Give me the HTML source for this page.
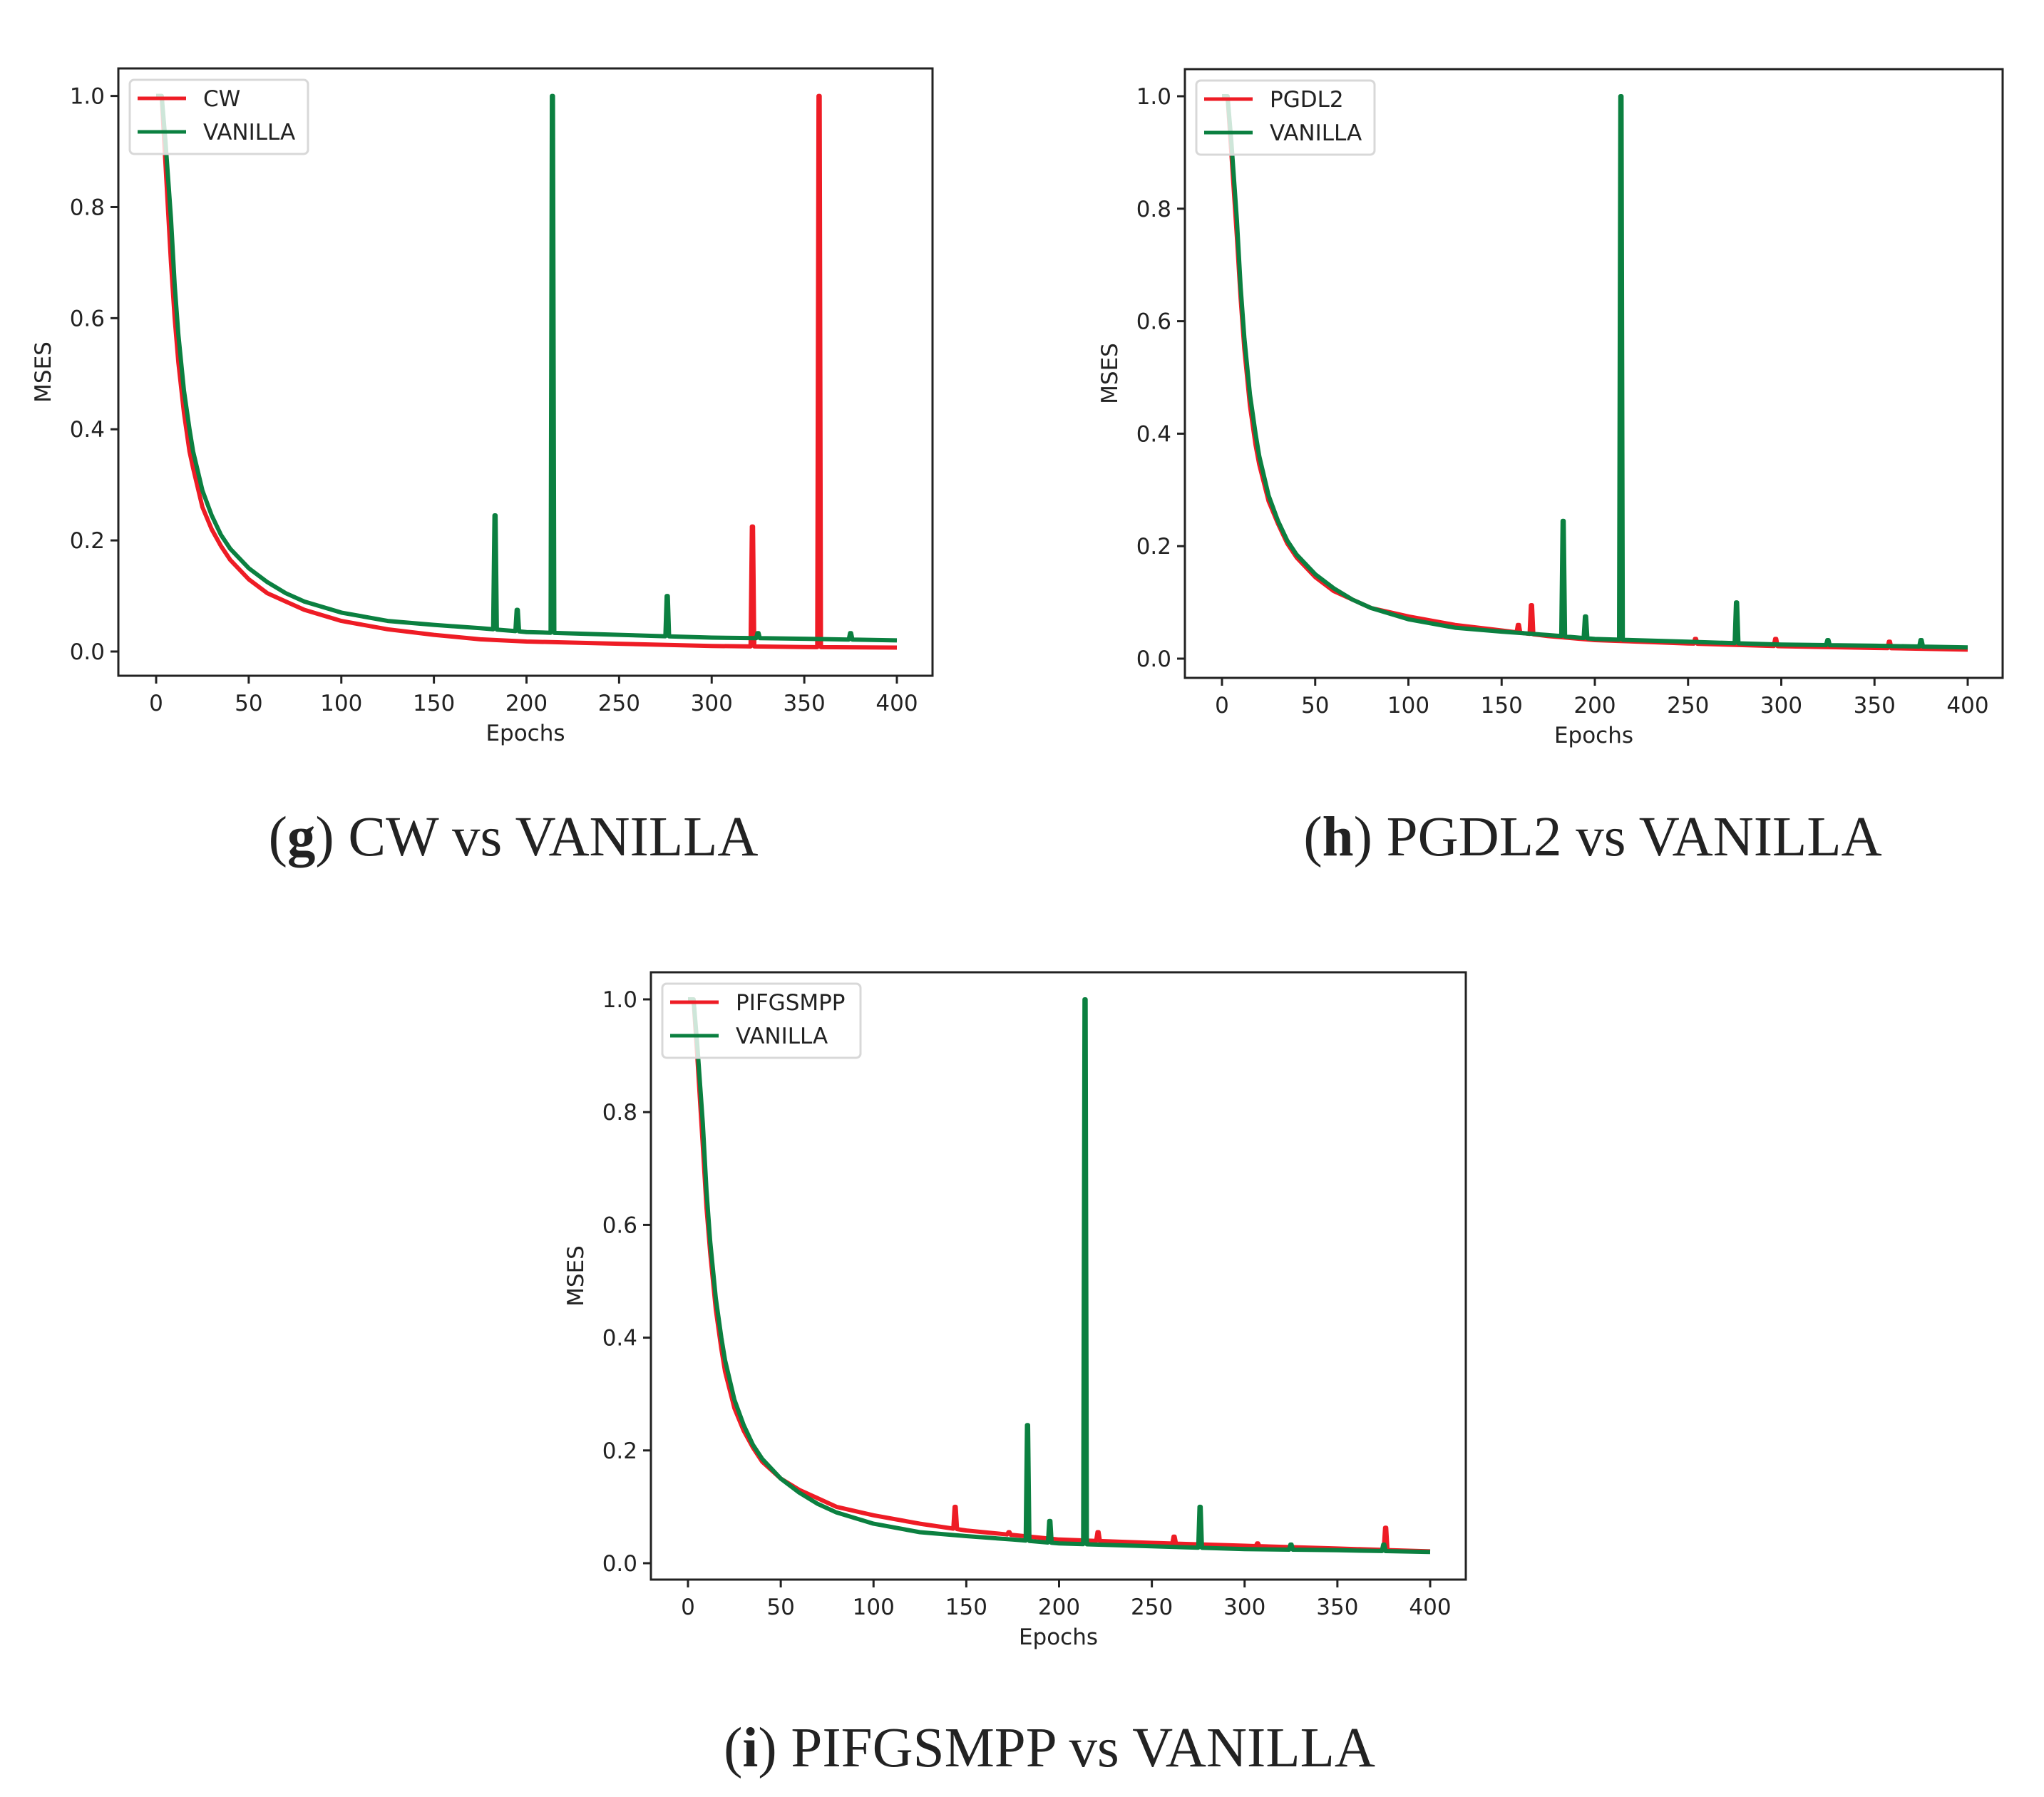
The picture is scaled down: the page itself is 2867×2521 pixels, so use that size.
<!DOCTYPE html>
<html><head><meta charset="utf-8"><style>
html,body{margin:0;padding:0;background:#fff}
svg{display:block}
.tk{font-family:"DejaVu Sans","Liberation Sans",sans-serif;font-size:31px;fill:#222}
.cap{font-family:"Liberation Serif","DejaVu Serif",serif;font-size:79px;fill:#222}
</style></head><body>
<svg id="fig" width="2867" height="2521" viewBox="0 0 2867 2521" xmlns="http://www.w3.org/2000/svg">
<text class="cap" x="720" y="1200" text-anchor="middle">(<tspan font-weight="bold">g</tspan>) CW vs VANILLA</text>
<text class="cap" x="2234" y="1200" text-anchor="middle">(<tspan font-weight="bold">h</tspan>) PGDL2 vs VANILLA</text>
<text class="cap" x="1472" y="2478" text-anchor="middle">(<tspan font-weight="bold">i</tspan>) PIFGSMPP vs VANILLA</text>
</svg>
<script>
const baseEpochs=[0,3,5,8,10,12,15,18,20,25,30,35,40,50,60,70,80,100,125,150,175,200,250,300,350,400];
const vanillaBase=[1.0,1.0,0.92,0.78,0.66,0.57,0.47,0.40,0.36,0.29,0.245,0.21,0.185,0.15,0.125,0.105,0.09,0.07,0.055,0.048,0.042,0.035,0.03,0.025,0.023,0.02];
const cwBase=[1.0,1.0,0.88,0.70,0.60,0.52,0.43,0.36,0.33,0.26,0.22,0.19,0.165,0.13,0.105,0.09,0.075,0.055,0.04,0.03,0.022,0.018,0.014,0.01,0.008,0.007];
const pgdl2Base=[1.0,1.0,0.90,0.75,0.64,0.55,0.45,0.38,0.345,0.28,0.24,0.205,0.18,0.145,0.12,0.105,0.09,0.075,0.06,0.05,0.04,0.033,0.027,0.022,0.019,0.016];
const pifBase=[1.0,1.0,0.90,0.74,0.63,0.55,0.45,0.38,0.34,0.275,0.235,0.205,0.18,0.15,0.13,0.115,0.10,0.085,0.07,0.058,0.05,0.042,0.036,0.031,0.026,0.021];
const vanillaSpikeEpochs=[183,195,214,276,325,375];
const vanillaSpikeValues=[0.245,0.075,1.0,0.1,0.033,0.033];
const cwSpikeEpochs=[322,358];
const cwSpikeValues=[0.225,1.0];
const pgdl2SpikeEpochs=[159,166,254,297,358];
const pgdl2SpikeValues=[0.06,0.095,0.035,0.035,0.03];
const pifSpikeEpochs=[144,173,221,262,307,376];
const pifSpikeValues=[0.1,0.055,0.055,0.047,0.035,0.063];
const xTicks=[0,50,100,150,200,250,300,350,400];
const yTicks=[0.0,0.2,0.4,0.6,0.8,1.0];

const NS="http://www.w3.org/2000/svg";
const svg=document.getElementById('fig');
function mk(tag,attrs,parent){const e=document.createElementNS(NS,tag);for(const k in attrs)e.setAttribute(k,attrs[k]);(parent||svg).appendChild(e);return e;}
function baseAt(base,e){for(let i=1;i<baseEpochs.length;i++){if(e<=baseEpochs[i]){const t=(e-baseEpochs[i-1])/(baseEpochs[i]-baseEpochs[i-1]);return base[i-1]+t*(base[i]-base[i-1]);}}return base[base.length-1];}
function series(base,se,sv){
  const pts=baseEpochs.map((e,i)=>[e,base[i]]);
  se.forEach((e,i)=>{pts.push([e-1,baseAt(base,e-1)]);pts.push([e-0.3,sv[i]]);pts.push([e+0.3,sv[i]]);pts.push([e+1,baseAt(base,e+1)]);});
  pts.sort((a,b)=>a[0]-b[0]);return pts;
}
function chart(c){
  const g=mk('g',{});
  
  
  const sx=v=>c.x0+(c.x400-c.x0)*v/400, sy=v=>c.y0+(c.y1-c.y0)*v;
  const cp=mk('clipPath',{id:'cp'+c.id},g);mk('rect',{x:c.l,y:c.t,width:c.w,height:c.h},cp);
  const lines=[[c.red,'#ee1c25'],[c.green,'#0b8040']];
  lines.forEach(([pts,col],k)=>{
    const p=mk('polyline',{points:pts.map(q=>sx(q[0]).toFixed(1)+','+sy(q[1]).toFixed(1)).join(' '),fill:'none',stroke:col,'stroke-width':6,'stroke-linejoin':'round','clip-path':'url(#cp'+c.id+')'},g);
    
    
  });
  const frame=mk('rect',{x:c.l,y:c.t,width:c.w,height:c.h,fill:'none',stroke:'#222','stroke-width':3},g);
  
  
  xTicks.forEach(v=>{const x=sx(v);mk('line',{x1:x,x2:x,y1:c.t+c.h,y2:c.t+c.h+11,stroke:'#222','stroke-width':3},g);
    const t=mk('text',{class:'tk',x:x,y:c.t+c.h+49,'text-anchor':'middle'},g);t.textContent=v;
    
    });
  yTicks.forEach(v=>{const y=sy(v);mk('line',{x1:c.l-11,x2:c.l,y1:y,y2:y,stroke:'#222','stroke-width':3},g);
    const t=mk('text',{class:'tk',x:c.l-19,y:y+11,'text-anchor':'end'},g);t.textContent=v.toFixed(1);
    
    });
  const xl=mk('text',{class:'tk',x:c.l+c.w/2,y:c.t+c.h+91,'text-anchor':'middle'},g);xl.textContent='Epochs';
  
  
  const yl=mk('text',{class:'tk',x:0,y:0,'text-anchor':'middle',transform:`translate(${c.l-95},${c.t+c.h/2}) rotate(-90)`},g);yl.textContent='MSES';
  
  
  const lg=mk('g',{},g);
  
  
  mk('rect',{x:c.l+16,y:c.t+16,width:c.lw,height:104,rx:6,fill:'#fff','fill-opacity':0.8,stroke:'#d8d8d8','stroke-width':3},lg);
  [[c.redName.toUpperCase(),'#ee1c25',42],['VANILLA','#0b8040',89]].forEach(([lab,col,dy])=>{
    mk('line',{x1:c.l+27,x2:c.l+95,y1:c.t+dy,y2:c.t+dy,stroke:col,'stroke-width':5},lg);
    const t=mk('text',{class:'tk',x:c.l+119,y:c.t+dy+11},lg);t.textContent=lab;
    
    
  });
}
const vanilla=series(vanillaBase,vanillaSpikeEpochs,vanillaSpikeValues);
chart({id:1,name:'chart-cw',redName:'cw',l:166,t:96,w:1142,h:852,x0:219,x400:1258,y0:914,y1:134.6,lw:250,
  red:series(cwBase,cwSpikeEpochs,cwSpikeValues),green:vanilla});
chart({id:2,name:'chart-pgdl2',redName:'pgdl2',l:1662,t:97,w:1147,h:854,x0:1714,x400:2760,y0:924,y1:135,lw:250,
  red:series(pgdl2Base,pgdl2SpikeEpochs,pgdl2SpikeValues),green:vanilla});
chart({id:3,name:'chart-pifgsmpp',redName:'pifgsmpp',l:913,t:1364,w:1143,h:852,x0:965,x400:2006,y0:2193,y1:1402,lw:278,
  red:series(pifBase,pifSpikeEpochs,pifSpikeValues),green:vanilla});
</script>
</body></html>
